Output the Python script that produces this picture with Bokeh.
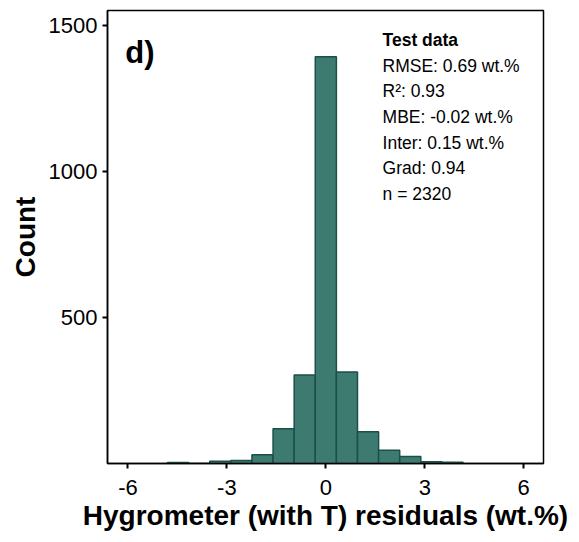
from bokeh.plotting import figure
from bokeh.models import Range1d, Label, FixedTicker
from bokeh.embed import file_html
from bokeh.resources import INLINE

# Data
bin_centers = [-4.48, -3.84, -3.2, -2.56, -1.92, -1.28, -0.64, 0.0, 0.64, 1.28, 1.92, 2.56, 3.2, 3.84]
counts = [3, 0, 8, 10, 30, 119, 303, 1392, 313, 109, 45, 24, 6, 4]
bin_width = 0.64
x_ticks = [-6, -3, 0, 3, 6]
x_tick_labels = ["-6", "-3", "0", "3", "6"]
y_ticks = [500, 1000, 1500]
x_title = "Hygrometer (with T) residuals (wt.%)"
y_title = "Count"
stats_title = "Test data"
stats_lines = ["RMSE: 0.69 wt.%", "R\u00b2: 0.93", "MBE: -0.02 wt.%", "Inter: 0.15 wt.%", "Grad: 0.94", "n = 2320"]
panel_tag = "d)"

FONT = "Liberation Sans"

p = figure(width=579, height=542, output_backend="svg", toolbar_location=None,
           x_range=Range1d(-6.62, 6.6), y_range=Range1d(0, 1550),
           min_border_left=107, min_border_right=36, min_border_top=10, min_border_bottom=79)

p.vbar(x=bin_centers, top=counts, width=bin_width, bottom=0,
       fill_color="#3d7b71", line_color="#1d4f49", line_width=1.5)

p.grid.visible = False
p.outline_line_color = "black"
p.outline_line_width = 1.5
p.background_fill_color = "white"
p.border_fill_color = "white"

for ax in (p.xaxis[0], p.yaxis[0]):
    ax.axis_line_color = "black"
    ax.axis_line_width = 1.5
    ax.major_tick_line_color = "black"
    ax.major_tick_line_width = 2
    ax.major_tick_in = 0
    ax.major_tick_out = 5
    ax.minor_tick_line_color = None
    ax.major_label_text_font = FONT
    ax.major_label_text_font_size = "22px"
    ax.major_label_text_color = "black"
    ax.axis_label_text_font = FONT
    ax.axis_label_text_font_style = "bold"
    ax.axis_label_text_font_size = "28px"
    ax.axis_label_text_color = "black"

p.xaxis.ticker = FixedTicker(ticks=x_ticks)
p.xaxis.major_label_overrides = {t: s for t, s in zip(x_ticks, x_tick_labels)}
p.yaxis.ticker = FixedTicker(ticks=y_ticks)
p.xaxis.major_label_standoff = 11
p.yaxis.major_label_standoff = 5
p.xaxis.axis_label = x_title
p.yaxis.axis_label = y_title
p.xaxis.axis_label_standoff = 2
p.yaxis.axis_label_standoff = 5

p.add_layout(Label(x=-6.08, y=1406, text=panel_tag, text_font=FONT, text_font_style="bold",
                   text_font_size="31px", text_color="black", text_baseline="alphabetic"))

x0 = 1.72
y0 = 1449
dy = 87.7
p.add_layout(Label(x=x0, y=y0, text=stats_title, text_font=FONT, text_font_style="bold",
                   text_font_size="17.5px", text_color="black", text_baseline="alphabetic"))
for i, t in enumerate(stats_lines):
    p.add_layout(Label(x=x0, y=y0 - dy * (i + 1), text=t, text_font=FONT,
                       text_font_size="17.5px", text_color="black", text_baseline="alphabetic"))

open("out.html", "w").write(file_html(p, INLINE))
